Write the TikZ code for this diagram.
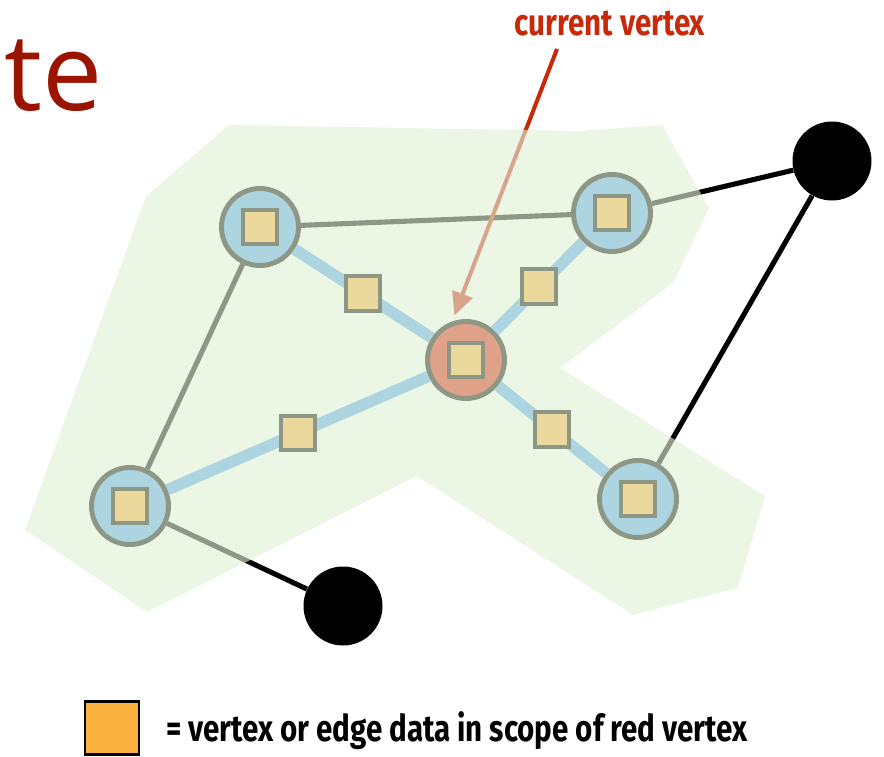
\documentclass[tikz,border=0pt]{standalone}
\usepackage{fontspec}
\usepackage{tikz}
\usetikzlibrary{arrows.meta}
\newfontfamily\titlefont{Open Sans}
\newfontfamily\labelfont[FakeStretch=0.8]{Fira Sans}
\definecolor{titlered}{HTML}{9A1400}
\definecolor{pointred}{HTML}{C8290A}
\definecolor{vertblue}{HTML}{52A6F8}
\definecolor{curred}{HTML}{DC1E05}
\definecolor{dataorange}{HTML}{FBB13D}
\definecolor{scopegreen}{HTML}{E1F0D5}

\begin{document}
\begin{tikzpicture}[x=0.2mm,y=-0.2mm,>={Triangle[length=4.6mm,width=4.2mm]},
  vert/.style={circle,draw=black,line width=2.8pt,fill=vertblue,minimum size=15.4mm,inner sep=0pt},
  curvert/.style={vert,fill=curred},
  outvert/.style={circle,fill=black,minimum size=15.8mm,inner sep=0pt},
  datasq/.style={draw=black,line width=2.4pt,fill=dataorange,minimum size=6.9mm,inner sep=0pt},
  link/.style={black,line width=2.9pt},
  scopelink/.style={vertblue,line width=6.5pt},
  lbl/.style={font=\labelfont\bfseries\fontsize{21}{24}\selectfont}]
\useasboundingbox (0,0) rectangle (884,757);
\node[font=\titlefont\fontsize{61}{64}\selectfont,text=titlered,anchor=base west,inner sep=0pt] (title) at (4,110) {te};
\node[lbl,text=pointred,anchor=base] (curlbl) at (610,35) {current vertex};
\coordinate (tail) at (557,49);
% graph
\node[vert] (a) at (260,227) {};
\node[vert] (b) at (612,213) {};
\node[curvert] (c) at (466,360) {};
\node[vert] (d) at (130,506) {};
\node[vert] (e) at (638,499) {};
\node[outvert] (f) at (832,161) {};
\node[outvert] (g) at (343,606) {};
\foreach \v in {a,b,c,d,e} \node[datasq] (\v sq) at (\v) {};
\draw[link] (a) -- (b);
\draw[link] (a) -- (d);
\draw[link] (b) -- (f);
\draw[link] (e) -- (f);
\draw[link] (d) -- (g);
\draw[scopelink] (a) -- node[datasq] (acsq) {} (c);
\draw[scopelink] (b) -- node[datasq] (bcsq) {} (c);
\draw[scopelink] (d) -- node[datasq] (dcsq) {} (c);
\draw[scopelink] (c) -- node[datasq] (cesq) {} (e);
\draw[pointred,line width=2.3pt,->,shorten >=1.3mm] (tail) -- (c.110);
% scope of the red vertex, laid over the graph
\fill[scopegreen,fill opacity=0.63] (229,125) -- (580,131) -- (662,125) -- (709,208) -- (673,283)
  -- (560,368) -- (765,496) -- (738,588) -- (633,615) -- (417,476) -- (147,612) -- (25,530)
  -- (146,196) -- cycle;
% legend
\node[draw=black,line width=1.7pt,fill=dataorange,minimum width=10.8mm,minimum height=10.6mm,inner sep=0pt] (key) at (112,728) {};
\node[lbl,anchor=base west] (keytxt) at (160,741) {= vertex or edge data in scope of red vertex};
\end{tikzpicture}
\end{document}
